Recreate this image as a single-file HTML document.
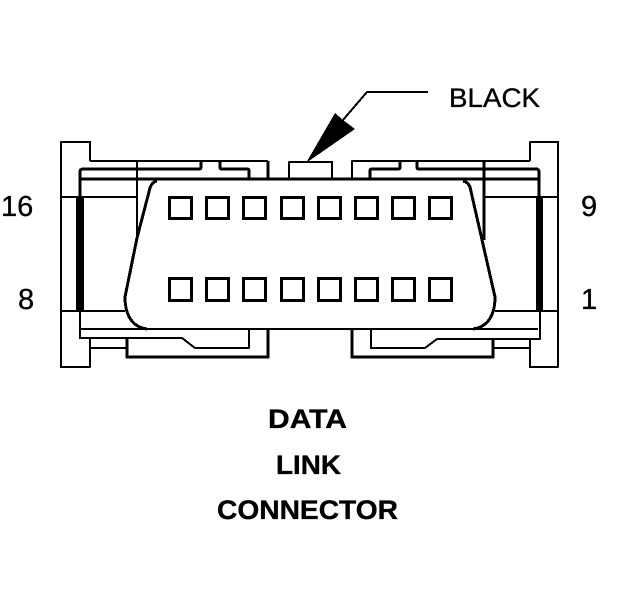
<!DOCTYPE html>
<html>
<head>
<meta charset="utf-8">
<style>
html,body{margin:0;padding:0;background:#fff;width:624px;height:600px;overflow:hidden}
svg{display:block}
text{font-family:"Liberation Sans",Arial,sans-serif;fill:#000;stroke:#000;stroke-width:.35px}
.b{font-weight:bold;font-size:27px}
.n{font-size:29px}
</style>
</head>
<body>
<svg width="624" height="600" viewBox="0 0 624 600" xmlns="http://www.w3.org/2000/svg">
<g fill="none" stroke="#000" stroke-width="2" stroke-linejoin="round" shape-rendering="crispEdges">
  <!-- left tab -->
  <path d="M90 161V142H61V367H90V338"/>
  <path d="M61 197H138"/>
  <path d="M61 311H125"/>
  <path d="M90 348H127"/>
  <!-- top left -->
  <path d="M90 161H268"/>
  <path d="M80 197V172Q80 169 83 169H199Q201 169 201 167V161" stroke-width="3"/>
  <path d="M220 161V167Q220 169 222 169H247Q249 169 249 171V179" stroke-width="3"/>
  <path d="M268 161V179" stroke-width="3"/>
  <path d="M137 161V240"/>
  <!-- main lines -->
  <path d="M80 179H539" stroke-width="3"/>
  <path d="M80 329H538"/>
  <!-- shell -->
  <path d="M157 181Q152 182 150 188L137 238L125 297C125 315 132 327 147 329" stroke-width="3"/>
  <path d="M463 181Q468 182 470 187L495 297C495 315 488 327 473 329" stroke-width="3"/>
  <!-- bottom left -->
  <path d="M80 311V338H182L195 348H249V329"/>
  <path d="M268 329V357H127V338" stroke-width="3"/>
  <!-- black connector -->
  <path d="M289 179V162H332V179"/>
  <path d="M343 120L367 92H428"/>
  <!-- top right -->
  <path d="M530 161V142H558V367H530V339"/>
  <path d="M352 179V161H530"/>
  <path d="M370 179V171Q370 169 372 169H398Q400 169 400 167V161" stroke-width="3"/>
  <path d="M417 161V167Q417 169 419 169H536Q539 169 539 172V197" stroke-width="3"/>
  <path d="M484 161V240" stroke-width="3"/>
  <path d="M484 197H558"/>
  <path d="M495 311H558"/>
  <path d="M493 348H530"/>
  <!-- bottom right -->
  <path d="M352 329V357H493V338" stroke-width="3"/>
  <path d="M371 329V348H425L437 339H540V311"/>
</g>
<rect x="76" y="197" width="8" height="114" fill="#000"/>
<rect x="536" y="197" width="7" height="114" fill="#000"/>
<polygon points="306,163 335,113 343,120 355,129" fill="#000" shape-rendering="crispEdges"/>
<!-- pin squares -->
<g fill="none" stroke="#000" stroke-width="3" shape-rendering="crispEdges">
  <rect x="169.5" y="197.5" width="22" height="21"/>
  <rect x="206.5" y="197.5" width="22" height="21"/>
  <rect x="243.5" y="197.5" width="22" height="21"/>
  <rect x="281.5" y="197.5" width="22" height="21"/>
  <rect x="318.5" y="197.5" width="22" height="21"/>
  <rect x="355.5" y="197.5" width="22" height="21"/>
  <rect x="392.5" y="197.5" width="22" height="21"/>
  <rect x="429.5" y="197.5" width="22" height="21"/>
  <rect x="169.5" y="278.5" width="22" height="22"/>
  <rect x="206.5" y="278.5" width="22" height="22"/>
  <rect x="243.5" y="278.5" width="22" height="22"/>
  <rect x="281.5" y="278.5" width="22" height="22"/>
  <rect x="318.5" y="278.5" width="22" height="22"/>
  <rect x="355.5" y="278.5" width="22" height="22"/>
  <rect x="392.5" y="278.5" width="22" height="22"/>
  <rect x="429.5" y="278.5" width="22" height="22"/>
</g>
<text x="449" y="107" font-size="27" textLength="91" lengthAdjust="spacingAndGlyphs">BLACK</text>
<text class="n" x="1" y="216">16</text>
<text class="n" x="18" y="309">8</text>
<text class="n" x="581" y="216">9</text>
<text class="n" x="581" y="309">1</text>
<text class="b" x="268" y="428" textLength="79" lengthAdjust="spacingAndGlyphs">DATA</text>
<text class="b" x="276" y="474" textLength="65" lengthAdjust="spacingAndGlyphs">LINK</text>
<text class="b" x="217" y="519" textLength="181" lengthAdjust="spacingAndGlyphs">CONNECTOR</text>
</svg>
</body>
</html>
